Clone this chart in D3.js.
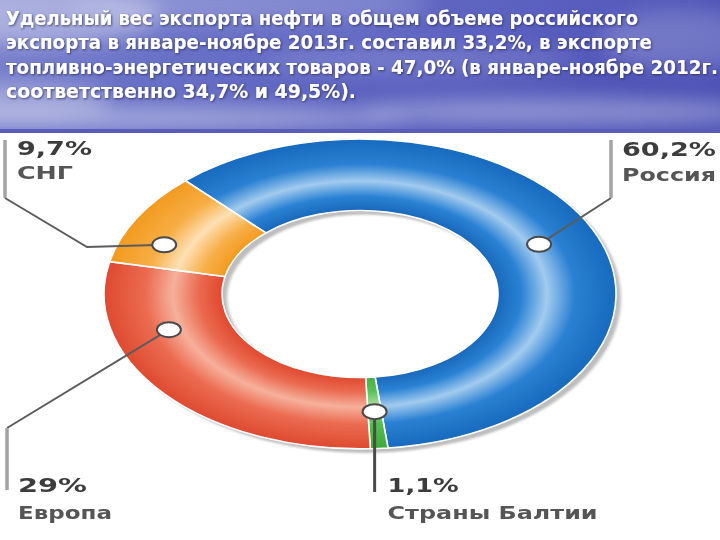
<!DOCTYPE html>
<html><head><meta charset="utf-8">
<script src="https://cdn.jsdelivr.net/npm/d3@7"></script>
<style>html,body{margin:0;padding:0;background:#fff;overflow:hidden}</style>
</head><body><svg id="c" width="720" height="540"></svg>
<script>
// ---- data ----
const titleLines = [
  "Удельный вес экспорта нефти в общем объеме российского",
  "экспорта в январе-ноябре 2013г. составил 33,2%, в экспорте",
  "топливно-энергетических товаров - 47,0% (в январе-ноябре 2012г.",
  "соответственно 34,7% и 49,5%)."
];
const categories = ["Россия", "Страны Балтии", "Европа", "СНГ"];
const values = [60.2, 1.1, 29, 9.7];
const valueLabels = ["60,2%", "1,1%", "29%", "9,7%"];

// ---- layout / style ----
const W = 720, H = 540;
const cx = 360, cy = 294, R = 256, r0 = 138, ky = 0.605;
const startDeg = -43;
const titleWidths = [632, 646, 712, 350];
const palettes = [
  ["#1868bb", "#2a82d4", "#a2cbef", "#2a80d2", "#176abd"],
  ["#43b040", "#5cc257", "#b4e2ae", "#56bd51", "#3fa83c"],
  ["#e0492f", "#ea6a50", "#f6b09c", "#eb6b51", "#de4a30"],
  ["#f39a1e", "#f7b04a", "#fde0b4", "#f7ae45", "#f29a1f"]
];
const markerFrac = [0.5, 0.5, 0.72, 0.3];
const markerRad = [197, 195, 200, 212];
// leader elbows and ends, label anchors
const leaders = [
  {pts: [[611, 198], [611, 140]], lx: 622, ly1: 156, ly2: 181, w1: 94, w2: 94},
  {pts: [[null, 492]], lx: 13, ly1: 492, ly2: 519, w1: 71, w2: 210, rel: true},
  {pts: [[7, 428], [7, 490]], lx: 18, ly1: 492, ly2: 519, w1: 69, w2: 94},
  {pts: [[87, 247], [5, 198], [5, 140]], lx: 17, ly1: 155, ly2: 179, w1: 75, w2: 56}
];

const svg = d3.select("#c");
const defs = svg.append("defs");

// banner
const bg = defs.append("linearGradient").attr("id", "sky").attr("x1", 0).attr("y1", 0).attr("x2", 1).attr("y2", 0.3);
bg.append("stop").attr("offset", 0).attr("stop-color", "#8088cf");
bg.append("stop").attr("offset", 0.35).attr("stop-color", "#6870c6");
bg.append("stop").attr("offset", 0.7).attr("stop-color", "#5a60bf");
bg.append("stop").attr("offset", 1).attr("stop-color", "#4d52b6");
defs.append("filter").attr("id", "cloud").attr("x", "-50%").attr("y", "-50%").attr("width", "200%").attr("height", "200%")
  .append("feGaussianBlur").attr("stdDeviation", 10);
defs.append("filter").attr("id", "soft").append("feGaussianBlur").attr("stdDeviation", 1.6);
defs.append("filter").attr("id", "tshadow").append("feDropShadow")
  .attr("dx", 1).attr("dy", 1).attr("stdDeviation", 0.8).attr("flood-color", "#202050").attr("flood-opacity", 0.7);

const banner = svg.append("g");
banner.append("rect").attr("x", 0).attr("y", 0).attr("width", W).attr("height", 131).attr("fill", "url(#sky)");
const clouds = [[40, 15, 120, 30, 0.35], [250, 5, 180, 18, 0.2], [150, 118, 260, 12, 0.4], [560, 112, 200, 14, 0.35],
                [420, 60, 160, 14, 0.15], [680, 40, 80, 30, 0.2], [20, 100, 90, 18, 0.3]];
banner.append("g").attr("filter", "url(#cloud)").selectAll("ellipse").data(clouds).join("ellipse")
  .attr("cx", d => d[0]).attr("cy", d => d[1]).attr("rx", d => d[2]).attr("ry", d => d[3])
  .attr("fill", "#ffffff").attr("opacity", d => d[4]);
banner.append("rect").attr("x", 0).attr("y", 129).attr("width", W).attr("height", 4).attr("fill", "#5a5cb8");
banner.append("g").attr("filter", "url(#tshadow)").selectAll("text").data(titleLines).join("text")
  .attr("x", 6).attr("y", (d, i) => 25 + i * 24.3)
  .attr("textLength", (d, i) => titleWidths[i]).attr("lengthAdjust", "spacingAndGlyphs")
  .attr("font-family", "DejaVu Sans Condensed, DejaVu Sans, sans-serif").attr("font-weight", "bold").attr("font-size", 19.5)
  .attr("fill", "#ffffff").text(d => d);

// gradients for slices
palettes.forEach((p, i) => {
  const g = defs.append("radialGradient").attr("id", "g" + i).attr("gradientUnits", "userSpaceOnUse")
    .attr("cx", 0).attr("cy", 0).attr("r", R);
  const offs = [r0 / R, 0.63, 0.73, 0.84, 1];
  p.forEach((c, j) => g.append("stop").attr("offset", offs[j]).attr("stop-color", c));
});

const pie = d3.pie().sort(null).value(d => d)
  .startAngle(startDeg * Math.PI / 180).endAngle(startDeg * Math.PI / 180 + 2 * Math.PI);
const arcs = pie(values);
const arc = d3.arc().innerRadius(r0).outerRadius(R);

// shadow (3D edge)
svg.append("path")
  .attr("transform", `translate(${cx + 5},${cy + 4}) scale(1,${ky})`)
  .attr("d", d3.arc().innerRadius(r0).outerRadius(R)({startAngle: 0, endAngle: 2 * Math.PI}))
  .attr("fill", "#bdbdbd").attr("filter", "url(#soft)");

const ring = svg.append("g").attr("transform", `translate(${cx},${cy}) scale(1,${ky})`);
ring.selectAll("path").data(arcs).join("path")
  .attr("d", arc).attr("fill", (d, i) => `url(#g${i})`)
  .attr("stroke", "#ffffff").attr("stroke-width", 1.6).attr("vector-effect", "non-scaling-stroke");

// markers + leaders
function markerPos(d, i) {
  const a = d.startAngle + markerFrac[i] * (d.endAngle - d.startAngle);
  return [cx + markerRad[i] * Math.sin(a), cy - markerRad[i] * Math.cos(a) * ky];
}
const lg = svg.append("g");
arcs.forEach((d, i) => {
  const m = markerPos(d, i);
  const L = leaders[i];
  let pts = [m].concat(L.pts.map(p => [p[0] === null ? m[0] : p[0], p[1]]));
  const n = pts.length;
  const first = pts.slice(0, n - 1);
  if (first.length > 1) {
    lg.append("path").attr("d", d3.line()(first)).attr("fill", "none")
      .attr("stroke", "#5c5c5c").attr("stroke-width", 2);
  }
  lg.append("path").attr("d", d3.line()(pts.slice(n - 2))).attr("fill", "none")
    .attr("stroke", i === 1 ? "#4a4a4a" : "#a3a3a3").attr("stroke-width", i === 1 ? 3 : 3.5);
  lg.append("ellipse").attr("cx", m[0]).attr("cy", m[1]).attr("rx", 12).attr("ry", 7.5)
    .attr("fill", "#ffffff").attr("stroke", "#4a4a4a").attr("stroke-width", 2);
  const lx = L.rel ? m[0] + L.lx : L.lx;
  const t = svg.append("g").attr("font-family", "DejaVu Sans, sans-serif").attr("font-weight", "bold");
  t.append("text").attr("x", lx).attr("y", L.ly1).attr("font-size", 20)
    .attr("textLength", L.w1).attr("lengthAdjust", "spacingAndGlyphs")
    .attr("fill", "#3c3c3c").text(valueLabels[i]);
  t.append("text").attr("x", lx).attr("y", L.ly2).attr("font-size", 18)
    .attr("textLength", L.w2).attr("lengthAdjust", "spacingAndGlyphs")
    .attr("fill", "#555555").text(categories[i]);
});
</script></body></html>
